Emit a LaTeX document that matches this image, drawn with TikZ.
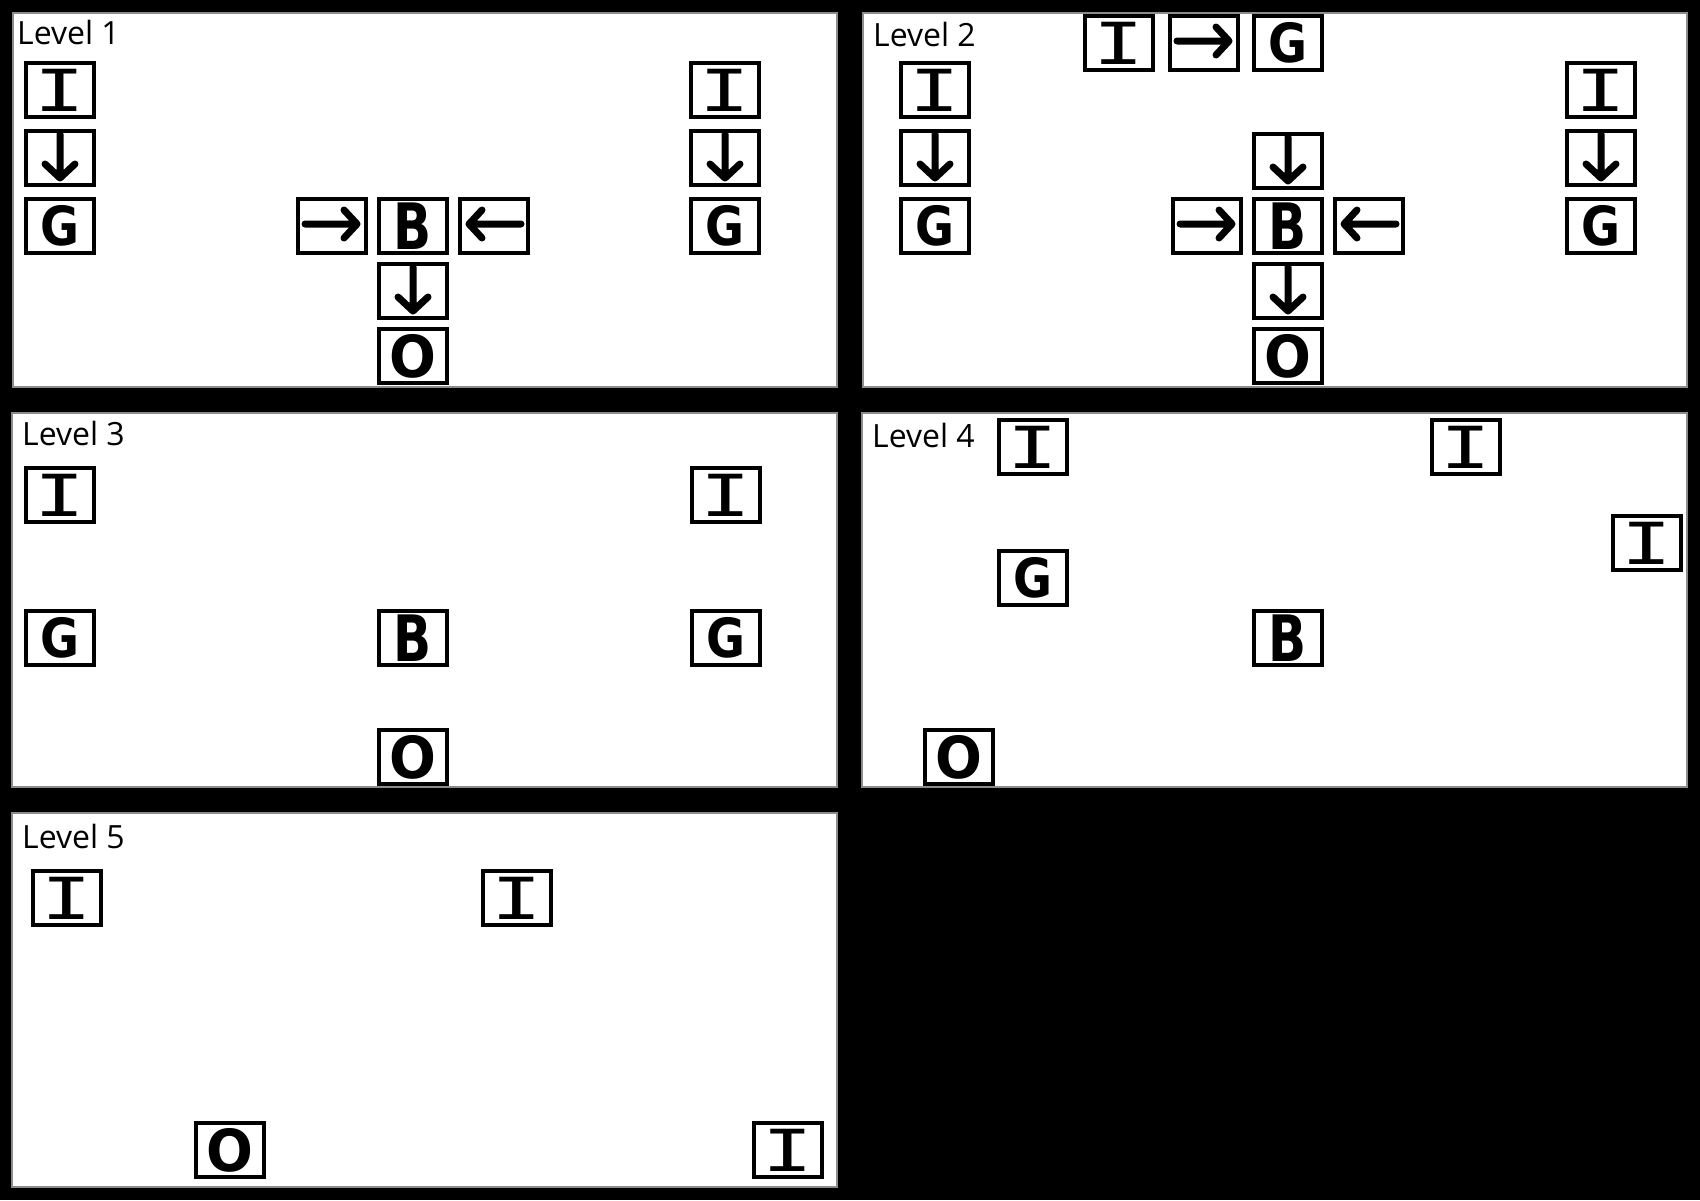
\documentclass[tikz,border=0pt]{standalone}
\usepackage{graphicx}
\usepackage{fontspec}
\setmainfont{Open Sans}
\newfontfamily\monob{DejaVu Sans Mono}
\newfontfamily\sansb{DejaVu Sans}
\newcommand{\lI}{{\monob\fontsize{58}{60}\selectfont\scalebox{1.45}[1]{I}}}
\newcommand{\lG}{{\sansb\bfseries\fontsize{54}{60}\selectfont\scalebox{0.88}[1]{G}}}
\newcommand{\lB}{{\sansb\bfseries\fontsize{64}{66}\selectfont\scalebox{0.78}[1]{B}}}
\newcommand{\lO}{{\sansb\bfseries\fontsize{58}{60}\selectfont\scalebox{0.95}[1]{O}}}
\tikzset{
  adown/.pic={\draw[glyph] (0,-24) -- (0,20) (-15,6) -- (0,20) -- (15,6);},
  aright/.pic={\draw[glyph] (-27,-2) -- (25,-2) (12,-16) -- (25,-2) -- (12,12);},
  aleft/.pic={\draw[glyph] (27,-2) -- (-25,-2) (-12,-16) -- (-25,-2) -- (-12,12);}
}
\begin{document}
\begin{tikzpicture}[x=1pt,y=-1pt,
  tile/.style={draw=black, line width=4pt, fill=white, minimum width=68pt, minimum height=54pt, inner sep=0pt},
  panel/.style={fill=white, draw=black!45, line width=1.5pt},
  lbl/.style={anchor=base west, inner sep=0pt, font=\fontsize{32}{38}\selectfont},
  glyph/.style={line width=7pt, line cap=round, line join=round}
]
\fill[black] (0,0) rectangle (1700,1200);
\useasboundingbox (0,0) rectangle (1700,1200);
% panels
\path[panel] (13,13) rectangle (837,387);
\path[panel] (863,13) rectangle (1687,387);
\path[panel] (12,413) rectangle (837,787);
\path[panel] (862,413) rectangle (1687,787);
\path[panel] (12,813) rectangle (837,1187);
% labels
\node[lbl] (t1) at (17,44) {Level 1};
\node[lbl] (t2) at (873,46) {Level 2};
\node[lbl] (t3) at (22,445) {Level 3};
\node[lbl] (t4) at (872,447) {Level 4};
\node[lbl] (t5) at (22,848) {Level 5};
% ---- Level 1
\node[tile] (a1) at (60,90) {\lI};
\node[tile] (a2) at (60,158) {}; \pic at (a2) {adown};
\node[tile] (a3) at (60,226) {\lG};
\node[tile] (a4) at (725,90) {\lI};
\node[tile] (a5) at (725,158) {}; \pic at (a5) {adown};
\node[tile] (a6) at (725,226) {\lG};
\node[tile] (a7) at (332,226) {}; \pic at (a7) {aright};
\node[tile] (a8) at (413,226) {\lB};
\node[tile] (a9) at (494,226) {}; \pic at (a9) {aleft};
\node[tile] (a10) at (413,291) {}; \pic at (a10) {adown};
\node[tile] (a11) at (413,356) {\lO};
% ---- Level 2
\node[tile] (b1) at (1119,43) {\lI};
\node[tile] (b2) at (1204,43) {}; \pic at (b2) {aright};
\node[tile] (b3) at (1288,43) {\lG};
\node[tile] (b4) at (935,90) {\lI};
\node[tile] (b5) at (935,158) {}; \pic at (b5) {adown};
\node[tile] (b6) at (935,226) {\lG};
\node[tile] (b7) at (1601,90) {\lI};
\node[tile] (b8) at (1601,158) {}; \pic at (b8) {adown};
\node[tile] (b9) at (1601,226) {\lG};
\node[tile] (b10) at (1288,161) {}; \pic at (b10) {adown};
\node[tile] (b11) at (1207,226) {}; \pic at (b11) {aright};
\node[tile] (b12) at (1288,226) {\lB};
\node[tile] (b13) at (1369,226) {}; \pic at (b13) {aleft};
\node[tile] (b14) at (1288,291) {}; \pic at (b14) {adown};
\node[tile] (b15) at (1288,356) {\lO};
% ---- Level 3
\node[tile] (c1) at (60,495) {\lI};
\node[tile] (c2) at (726,495) {\lI};
\node[tile] (c3) at (60,638) {\lG};
\node[tile] (c4) at (413,638) {\lB};
\node[tile] (c5) at (726,638) {\lG};
\node[tile] (c6) at (413,757) {\lO};
% ---- Level 4
\node[tile] (d1) at (1033,447) {\lI};
\node[tile] (d2) at (1466,447) {\lI};
\node[tile] (d3) at (1647,543) {\lI};
\node[tile] (d4) at (1033,578) {\lG};
\node[tile] (d5) at (1288,638) {\lB};
\node[tile] (d6) at (959,757) {\lO};
% ---- Level 5
\node[tile] (e1) at (67,898) {\lI};
\node[tile] (e2) at (517,898) {\lI};
\node[tile] (e3) at (230,1150) {\lO};
\node[tile] (e4) at (788,1150) {\lI};
\end{tikzpicture}
\end{document}
